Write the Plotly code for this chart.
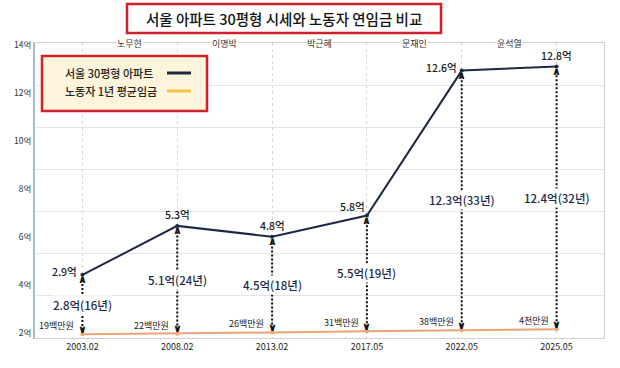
import plotly.graph_objects as go

# ---------------- data ----------------
dates = ["2003.02", "2008.02", "2013.02", "2017.05", "2022.05", "2025.05"]
presidents = ["노무현", "이명박", "박근혜", "문재인", "윤석열"]
apt_price = [2.9, 5.3, 4.8, 5.8, 12.6, 12.8]            # 억 (labels)
apt_y_on_chart = [4.42, 6.46, 6.01, 6.89, 12.93, 13.10]   # where the line is drawn on the chart axis
wage_labels = ["19백만원", "22백만원", "26백만원", "31백만원", "38백만원", "4천만원"]
wage_y_on_chart = [1.95, 1.97, 2.02, 2.07, 2.11, 2.15]
price_gap = [2.8, 5.1, 4.5, 5.5, 12.3, 12.4]               # 억
years_of_wage = [16, 24, 18, 19, 33, 32]
y_ticks = [2, 4, 6, 8, 10, 12, 14]

# ---------------- layout constants ----------------
W, H = 620, 368
L, R, T, B = 35, 604, 43, 338
Y0, Y1 = 1.79, 14.08
NAVY = "#1d2944"
ORANGE = "#eca275"
FONT = "Noto Sans CJK KR"


def pxx(x):
    """reference pixel x -> paper"""
    return (x - L) / (R - L)


def pyy(y):
    """reference pixel y -> paper"""
    return (B - y) / (B - T)


fig = go.Figure()

# vertical dotted arrows (price gap)
gap_delta = 0.17
for i, d in enumerate(dates):
    fig.add_trace(go.Scatter(
        x=[d, d], y=[wage_y_on_chart[i] + gap_delta, apt_y_on_chart[i] - gap_delta],
        mode="lines", line=dict(color="#111111", width=2, dash="2px,2px"),
        hoverinfo="skip", showlegend=False))

# apartment line
fig.add_trace(go.Scatter(
    x=dates, y=apt_y_on_chart, mode="lines+markers",
    line=dict(color=NAVY, width=2), marker=dict(size=4, color=NAVY),
    name="서울 30평형 아파트", showlegend=False))

# wage line
fig.add_trace(go.Scatter(
    x=dates, y=wage_y_on_chart, mode="lines+markers",
    line=dict(color=ORANGE, width=2), marker=dict(size=4, color=ORANGE),
    name="노동자 1년 평균임금", showlegend=False))

annotations = []
shapes = []

# arrow heads (category axis: annotation x uses category index)
for i, d in enumerate(dates):
    annotations.append(dict(x=i, y=apt_y_on_chart[i] - gap_delta, xref="x", yref="y",
                            text="<b>∧</b>", showarrow=False, xanchor="center",
                            yanchor="middle", yshift=-1,
                            font=dict(family="DejaVu Sans", size=11, color="#111111")))
    annotations.append(dict(x=i, y=wage_y_on_chart[i] + gap_delta, xref="x", yref="y",
                            text="<b>∨</b>", showarrow=False, xanchor="center",
                            yanchor="middle", yshift=1,
                            font=dict(family="DejaVu Sans", size=11, color="#111111")))

# gap labels at middle of arrows
for i, d in enumerate(dates):
    mid = (apt_y_on_chart[i] + wage_y_on_chart[i]) / 2
    annotations.append(dict(x=i, y=mid, xref="x", yref="y",
                            text=f"{price_gap[i]:.1f}억({years_of_wage[i]}년)",
                            showarrow=False, bgcolor="white", borderpad=1,
                            xanchor="center", yanchor="middle",
                            font=dict(family=FONT, size=11.5, color=NAVY, weight=500)))

# price labels at points
price_label_pos = ["left", "top", "top", "left-top", "left", "top"]
for i, d in enumerate(dates):
    pos = price_label_pos[i]
    a = dict(x=i, y=apt_y_on_chart[i], xref="x", yref="y", text=f"{apt_price[i]}억",
             showarrow=False, font=dict(family=FONT, size=10.5, color="#1a1a1a", weight=500))
    if pos == "left":
        a.update(xanchor="right", yanchor="middle", xshift=-3, yshift=3)
    elif pos == "top":
        a.update(xanchor="center", yanchor="bottom", yshift=2)
    else:
        a.update(xanchor="right", yanchor="bottom", xshift=0, yshift=0)
    annotations.append(a)

# wage labels
for i, d in enumerate(dates):
    annotations.append(dict(x=i, y=wage_y_on_chart[i], xref="x", yref="y", text=wage_labels[i],
                            showarrow=False, xanchor="right", yanchor="bottom",
                            xshift=-6, yshift=0,
                            font=dict(family=FONT, size=9, color="#1a1a1a")))

# president names on top edge
for i, p in enumerate(presidents):
    annotations.append(dict(x=i + 0.5, y=1, xref="x", yref="paper", text=p,
                            showarrow=False, xanchor="center", yanchor="middle",
                            bgcolor="white", borderpad=0,
                            font=dict(family=FONT, size=9, color="#333333")))

# title box
shapes.append(dict(type="rect", xref="paper", yref="paper",
                   x0=pxx(127), x1=pxx(441), y0=pyy(33), y1=pyy(4),
                   line=dict(color="#d0202a", width=2.5), fillcolor="white", layer="above"))
annotations.append(dict(x=pxx(284), y=pyy(18), xref="paper", yref="paper",
                        xanchor="center", yanchor="middle",
                        text="서울 아파트 30평형 시세와 노동자 연임금 비교",
                        showarrow=False,
                        font=dict(family=FONT, size=14.5, color="#111111", weight=500)))

# legend box (manual, symbol on the right as in the original)
shapes.append(dict(type="rect", xref="paper", yref="paper",
                   x0=pxx(42), x1=pxx(207), y0=pyy(111), y1=pyy(56),
                   line=dict(color="#d0202a", width=2.5), fillcolor="#fdf4dc", layer="above"))
legend_items = [("서울 30평형 아파트", NAVY, 73), ("노동자 1년 평균임금", "#f3c447", 91)]
for txt, col, yy in legend_items:
    annotations.append(dict(x=pxx(63), y=pyy(yy), xref="paper", yref="paper", text=txt,
                            showarrow=False, xanchor="left", yanchor="middle",
                            font=dict(family=FONT, size=11, color="#222222", weight=500)))
    shapes.append(dict(type="line", xref="paper", yref="paper",
                       x0=pxx(167), x1=pxx(191), y0=pyy(yy), y1=pyy(yy),
                       line=dict(color=col, width=3), layer="above"))

fig.update_layout(
    width=W, height=H,
    margin=dict(l=L, r=W - R, t=T, b=H - B),
    paper_bgcolor="white", plot_bgcolor="white",
    showlegend=False,
    xaxis=dict(type="category", categoryorder="array", categoryarray=dates,
               range=[-0.5, 5.5], showgrid=True, gridcolor="#d6d6d6", griddash="dot",
               gridwidth=1, showline=True, linecolor="#cfcfcf", linewidth=1, mirror=True,
               ticks="", tickfont=dict(family=FONT, size=9, color="#222222"), zeroline=False),
    yaxis=dict(range=[Y0, Y1], tickvals=y_ticks, ticktext=[f"{v}억" for v in y_ticks],
               showgrid=False, zeroline=False, showline=True, linecolor="#a9bccf", linewidth=2,
               ticks="", tickfont=dict(family=FONT, size=8.5, color="#333333")),
    yaxis2=dict(range=[0, 7], dtick=1, overlaying="y", side="right", showgrid=True,
                gridcolor="#e4e4e4", showticklabels=False, showline=True, linecolor="#cfcfcf",
                zeroline=False, ticks=""),
    annotations=annotations,
    shapes=shapes,
)

# invisible trace that activates the grid axis
fig.add_trace(go.Scatter(x=[dates[0]], y=[0], yaxis="y2", mode="markers",
                         marker=dict(opacity=0), hoverinfo="skip", showlegend=False))

# remove the browser's default 8px body margin so the figure sits at the page origin
fig.write_html("out.html", config={"displayModeBar": False},
               post_script="document.body.style.margin='0';document.body.style.padding='0';")
